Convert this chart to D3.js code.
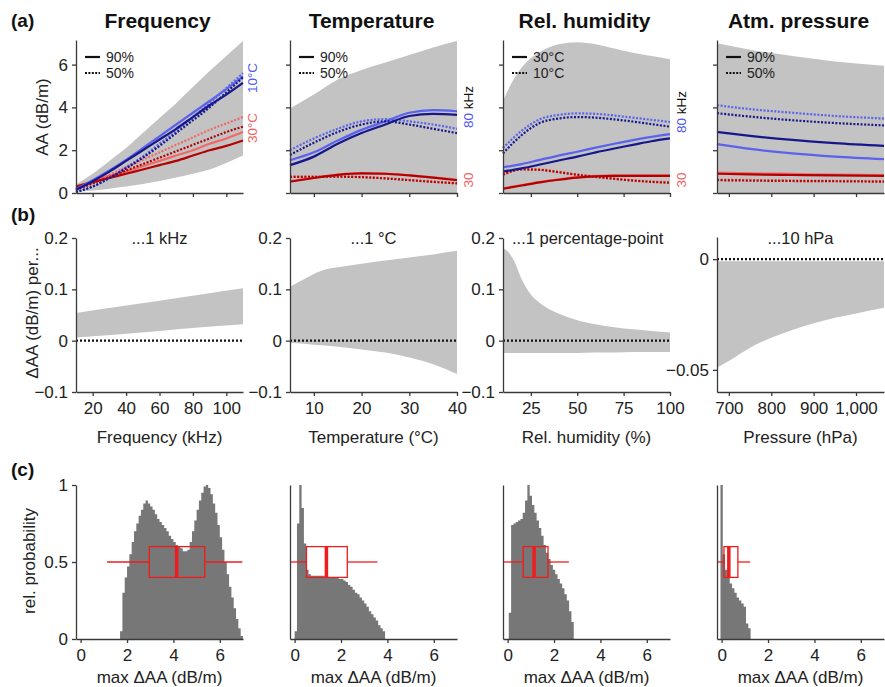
<!DOCTYPE html>
<html><head><meta charset="utf-8">
<script src="https://cdn.jsdelivr.net/npm/d3@7"></script>
<style>body{margin:0;background:#fff}</style>
</head><body>
<svg id="chart" width="885" height="687"></svg>
<script>
// ---------- DATA ----------
const titles = ["Frequency", "Temperature", "Rel. humidity", "Atm. pressure"];
const xTitlesB = ["Frequency (kHz)", "Temperature (°C)", "Rel. humidity (%)", "Pressure (hPa)"];
const subtitlesB = ["...1 kHz", "...1 °C", "...1 percentage-point", "...10 hPa"];
const xDomains = [[10, 110], [5, 40], [10, 100], [672, 1066]];
const xTicks = [[20, 40, 60, 80, 100], [10, 20, 30, 40], [25, 50, 75, 100], [700, 800, 900, 1000]];
const xTickLabels = [["20", "40", "60", "80", "100"], ["10", "20", "30", "40"], ["25", "50", "75", "100"], ["700", "800", "900", "1,000"]];
const legendLabelsA = [["90%", "50%"], ["90%", "50%"], ["30°C", "10°C"], ["90%", "50%"]];
const yTicksA = [0, 2, 4, 6];
const yTicksB = [-0.1, 0, 0.1, 0.2];
const yTickLabelsB = ["\u22120.1", "0", "0.1", "0.2"];
const yTicksB4 = [-0.05, 0];
const yTickLabelsB4 = ["\u22120.05", "0"];
const yTicksC = [0, 0.5, 1];
const yTickLabelsC = ["0", "0.5", "1"];
const xTicksC = [0, 2, 4, 6];

// Row (a), panel 1: frequency
const a1X = [10, 20, 30, 40, 50, 60, 70, 80, 90, 100, 110];
const a1Hi = [0.4, 0.9, 1.5, 2.1, 2.8, 3.5, 4.2, 4.95, 5.7, 6.4, 7.1];
const a1Lo = [0.05, 0.12, 0.2, 0.3, 0.42, 0.56, 0.72, 0.9, 1.1, 1.4, 1.75];
const a1_db90 = [0.15, 0.55, 1.0, 1.5, 2.0, 2.5, 3.0, 3.55, 4.1, 4.6, 5.15];
const a1_lb90 = [0.2, 0.6, 1.05, 1.55, 2.1, 2.65, 3.2, 3.75, 4.3, 4.85, 5.45];
const a1_db50 = [0.05, 0.3, 0.7, 1.15, 1.65, 2.2, 2.8, 3.4, 4.0, 4.7, 5.4];
const a1_lb50 = [0.05, 0.3, 0.7, 1.2, 1.7, 2.3, 2.9, 3.55, 4.2, 4.9, 5.6];
const a1_dr90 = [0.3, 0.5, 0.7, 0.9, 1.1, 1.3, 1.5, 1.75, 2.0, 2.2, 2.45];
const a1_lr90 = [0.3, 0.55, 0.8, 1.0, 1.25, 1.5, 1.75, 2.0, 2.3, 2.55, 2.85];
const a1_dr50 = [0.15, 0.45, 0.75, 1.05, 1.35, 1.65, 1.95, 2.25, 2.55, 2.85, 3.1];
const a1_lr50 = [0.15, 0.5, 0.85, 1.2, 1.55, 1.9, 2.25, 2.6, 2.95, 3.25, 3.55];

// Row (a), panel 2: temperature
const a2X = [5, 10, 15, 20, 25, 30, 35, 40];
const a2Hi = [3.95, 4.6, 5.3, 5.75, 6.1, 6.45, 6.8, 7.1];
const a2Lo = [0, 0, 0, 0, 0, 0, 0, 0];
const a2_db90 = [1.3, 1.7, 2.3, 2.8, 3.2, 3.6, 3.7, 3.65];
const a2_lb90 = [1.53, 1.9, 2.45, 2.95, 3.35, 3.75, 3.87, 3.82];
const a2_db50 = [1.78, 2.35, 2.85, 3.2, 3.35, 3.2, 3.0, 2.8];
const a2_lb50 = [2.0, 2.55, 3.0, 3.35, 3.45, 3.35, 3.2, 3.0];
const a2_dr90 = [0.53, 0.7, 0.85, 0.92, 0.9, 0.82, 0.72, 0.6];
const a2_lr90 = [0.55, 0.72, 0.86, 0.93, 0.91, 0.83, 0.73, 0.62];
const a2_dr50 = [0.75, 0.76, 0.76, 0.74, 0.68, 0.6, 0.52, 0.45];
const a2_lr50 = [0.76, 0.77, 0.77, 0.75, 0.69, 0.61, 0.53, 0.46];

// Row (a), panel 3: relative humidity
const a3X = [10, 20, 30, 40, 50, 60, 70, 80, 90, 100];
const a3BandX = [10, 15, 20, 25, 30, 40, 50, 60, 70, 80, 90, 100];
const a3Hi = [4.3, 5.2, 5.85, 6.3, 6.6, 6.95, 7.05, 6.95, 6.75, 6.55, 6.4, 6.25];
const a3Lo = [0, 0, 0, 0, 0, 0, 0, 0, 0, 0, 0, 0];
const a3_db90 = [1.0, 1.15, 1.33, 1.52, 1.7, 1.9, 2.08, 2.25, 2.42, 2.55];
const a3_lb90 = [1.2, 1.35, 1.55, 1.75, 1.93, 2.12, 2.3, 2.47, 2.62, 2.75];
const a3_db50 = [1.85, 2.7, 3.28, 3.48, 3.55, 3.52, 3.44, 3.34, 3.22, 3.1];
const a3_lb50 = [2.1, 2.9, 3.45, 3.65, 3.72, 3.7, 3.62, 3.52, 3.42, 3.32];
const a3_dr90 = [0.2, 0.35, 0.5, 0.62, 0.72, 0.78, 0.8, 0.8, 0.8, 0.8];
const a3_lr90 = [0.22, 0.37, 0.52, 0.64, 0.74, 0.8, 0.82, 0.82, 0.82, 0.82];
const a3_dr50 = [0.85, 1.1, 1.08, 0.97, 0.85, 0.75, 0.66, 0.58, 0.52, 0.48];
const a3_lr50 = [0.87, 1.12, 1.1, 0.99, 0.87, 0.77, 0.68, 0.6, 0.54, 0.5];

// Row (a), panel 4: pressure
const a4X = [672, 750, 850, 950, 1066];
const a4Hi = [7.0, 6.7, 6.4, 6.15, 5.95];
const a4Lo = [0, 0, 0, 0, 0];
const a4_db90 = [2.85, 2.67, 2.48, 2.33, 2.2];
const a4_lb90 = [2.28, 2.06, 1.85, 1.7, 1.58];
const a4_db50 = [3.73, 3.57, 3.4, 3.27, 3.16];
const a4_lb50 = [4.1, 3.92, 3.75, 3.6, 3.48];
const a4_dr90 = [0.9, 0.87, 0.84, 0.82, 0.8];
const a4_lr90 = [0.95, 0.92, 0.89, 0.86, 0.84];
const a4_dr50 = [0.6, 0.58, 0.56, 0.55, 0.53];
const a4_lr50 = [0.63, 0.61, 0.59, 0.57, 0.55];

// Row (b): derivative bands
const b1X = [10, 35, 60, 85, 110];
const b1Hi = [0.054, 0.066, 0.078, 0.09, 0.102];
const b1Lo = [0.006, 0.012, 0.019, 0.026, 0.032];
const b2X = [5, 8, 10, 13, 15, 20, 25, 30, 35, 40];
const b2Hi = [0.105, 0.12, 0.13, 0.14, 0.143, 0.15, 0.156, 0.162, 0.168, 0.175];
const b2Lo = [-0.004, -0.006, -0.008, -0.01, -0.012, -0.017, -0.023, -0.033, -0.046, -0.065];
const b3X = [10, 13, 16, 20, 25, 30, 40, 50, 60, 70, 80, 90, 100];
const b3Hi = [0.18, 0.172, 0.155, 0.12, 0.09, 0.073, 0.053, 0.04, 0.032, 0.026, 0.022, 0.019, 0.016];
const b3Lo = [-0.024, -0.024, -0.024, -0.024, -0.024, -0.024, -0.024, -0.024, -0.023, -0.023, -0.022, -0.022, -0.022];
const b4X = [672, 700, 750, 800, 850, 900, 950, 1000, 1066];
const b4Hi = [-0.001, -0.001, -0.001, -0.001, -0.001, -0.001, -0.001, -0.001, -0.001];
const b4Lo = [-0.049, -0.046, -0.040, -0.0355, -0.032, -0.029, -0.0265, -0.0245, -0.022];

// Row (c): histograms (bin width 0.1) and box-plot statistics
const binWidth = 0.1;
const c1Start = 1.7;
const c1Hist = [0.05,0.30,0.40,0.47,0.55,0.63,0.70,0.75,0.80,0.84,0.88,0.90,0.88,0.86,0.84,0.81,0.78,0.76,0.74,0.72,0.70,0.67,0.65,0.63,0.61,0.60,0.59,0.57,0.57,0.58,0.63,0.70,0.77,0.84,0.90,0.95,0.99,1.00,0.98,0.94,0.88,0.82,0.74,0.66,0.58,0.50,0.42,0.34,0.27,0.20,0.13,0.07,0.02];
const c2Start = 0.0;
const c2Hist = [0.05,0.75,1.0,0.85,0.62,0.45,0.42,0.41,0.41,0.41,0.41,0.41,0.41,0.40,0.40,0.40,0.40,0.40,0.40,0.39,0.39,0.38,0.37,0.35,0.34,0.32,0.30,0.29,0.27,0.25,0.23,0.21,0.18,0.16,0.14,0.12,0.09,0.07,0.05];
const c3Start = 0.05;
const c3Hist = [0.17,0.74,0.75,0.76,0.77,0.78,0.82,0.90,1.00,0.93,0.87,0.82,0.77,0.72,0.67,0.61,0.56,0.52,0.48,0.45,0.42,0.39,0.36,0.33,0.29,0.25,0.18,0.11];
const c4Start = -0.05;
const c4Hist = [1.0,0.55,0.45,0.40,0.36,0.33,0.30,0.27,0.25,0.23,0.21,0.10,0.07];
const whiskerLo = [1.14, -0.2, -0.2, -0.2];
const q1 = [2.96, 0.51, 0.67, 0.10];
const median = [4.14, 1.37, 1.14, 0.31];
const q3 = [5.35, 2.27, 1.74, 0.70];
const whiskerHi = [6.97, 3.57, 2.64, 1.23];

// ---------- DRAWING ----------
const FONT = "'Liberation Sans', Arial, Helvetica, sans-serif";
const colDB = "#17178c", colLB = "#5a62ee", colDR = "#b40000", colLR = "#f26868";
const colLBText = "#4f58f0", colRText = "#f06262";
const bandFill = "#c3c3c3", histFill = "#777777", boxRed = "#ee1c1c";
const svg = d3.select("#chart").attr("font-family", FONT);
const L = [76, 290, 503, 717], W = 167;
const yA = d3.scaleLinear([0, 7.15], [193, 40]);
const yB = d3.scaleLinear([-0.1, 0.2], [392, 238]);
const yB4 = d3.scaleLinear([-0.06, 0.01], [392, 237]);
const yC = d3.scaleLinear([0, 1], [639, 485]);

function styleAxis(g) {
  g.selectAll("path,line").attr("stroke", "#3a3a3a").attr("stroke-width", 1.3);
  g.selectAll("text").attr("font-size", 17).attr("fill", "#222").attr("font-family", FONT);
}

const panelsA = [
  {x: a1X, bx: a1X, hi: a1Hi, lo: a1Lo, s: [a1_db90, a1_lb90, a1_db50, a1_lb50, a1_dr90, a1_lr90, a1_dr50, a1_lr50]},
  {x: a2X, bx: a2X, hi: a2Hi, lo: a2Lo, s: [a2_db90, a2_lb90, a2_db50, a2_lb50, a2_dr90, a2_lr90, a2_dr50, a2_lr50]},
  {x: a3X, bx: a3BandX, hi: a3Hi, lo: a3Lo, s: [a3_db90, a3_lb90, a3_db50, a3_lb50, a3_dr90, a3_lr90, a3_dr50, a3_lr50]},
  {x: a4X, bx: a4X, hi: a4Hi, lo: a4Lo, s: [a4_db90, a4_lb90, a4_db50, a4_lb50, a4_dr90, a4_lr90, a4_dr50, a4_lr50]}
];
const seriesColors = [colDB, colLB, colDB, colLB, colDR, colLR, colDR, colLR];
const seriesDotted = [false, false, true, true, false, false, true, true];
const drawOrder = [7, 5, 6, 4, 3, 1, 2, 0];

const bandsB = [[b1X, b1Hi, b1Lo], [b2X, b2Hi, b2Lo], [b3X, b3Hi, b3Lo], [b4X, b4Hi, b4Lo]];
const hists = [[c1Start, c1Hist], [c2Start, c2Hist], [c3Start, c3Hist], [c4Start, c4Hist]];

for (let i = 0; i < 4; i++) {
  const x = d3.scaleLinear(xDomains[i], [L[i], L[i] + W]);
  const P = panelsA[i];

  // ---- Row (a)
  const band = P.bx.map((v, k) => ({x: v, hi: P.hi[k], lo: P.lo[k]}));
  svg.append("path").datum(band).attr("fill", bandFill)
    .attr("d", d3.area().x(d => x(d.x)).y0(d => yA(d.lo)).y1(d => yA(d.hi)).curve(d3.curveMonotoneX));
  const line = d3.line().x(d => x(d[0])).y(d => yA(d[1])).curve(d3.curveMonotoneX);
  drawOrder.forEach(k => {
    svg.append("path").datum(P.x.map((v, j) => [v, P.s[k][j]]))
      .attr("fill", "none").attr("stroke", seriesColors[k]).attr("stroke-width", 2.2)
      .attr("stroke-dasharray", seriesDotted[k] ? "2,1.6" : null)
      .attr("d", line);
  });
  svg.append("g").attr("transform", "translate(0,193)")
    .call(d3.axisBottom(x).tickValues(xTicks[i]).tickFormat("").tickSize(4).tickSizeOuter(0)).call(styleAxis);
  svg.append("g").attr("transform", `translate(${L[i]},0)`)
    .call(d3.axisLeft(yA).tickValues(yTicksA).tickFormat(i === 0 ? d3.format("d") : "").tickSize(4).tickPadding(4).tickSizeOuter(0)).call(styleAxis);
  // legend
  legendLabelsA[i].forEach((lab, k) => {
    const yy = 57 + k * 16;
    svg.append("line").attr("x1", L[i] + 9).attr("x2", L[i] + 24).attr("y1", yy).attr("y2", yy)
      .attr("stroke", "#111").attr("stroke-width", 2.2).attr("stroke-dasharray", k === 1 ? "2,1.4" : null);
    svg.append("text").attr("x", L[i] + 30).attr("y", yy + 5).attr("font-size", 14).attr("fill", "#222").text(lab);
  });
  // title
  svg.append("text").attr("x", L[i] + W / 2 - 2).attr("y", 28).attr("text-anchor", "middle")
    .attr("font-size", 21).attr("font-weight", "bold").attr("fill", "#111").text(titles[i]);

  // ---- Row (b)
  const yb = i === 3 ? yB4 : yB;
  const [bx, bh, bl] = bandsB[i];
  svg.append("path").datum(bx.map((v, k) => ({x: v, hi: bh[k], lo: bl[k]}))).attr("fill", bandFill)
    .attr("d", d3.area().x(d => x(d.x)).y0(d => yb(d.lo)).y1(d => yb(d.hi)).curve(d3.curveMonotoneX));
  svg.append("path").datum(xDomains[i]).attr("fill", "none").attr("stroke", "#111")
    .attr("stroke-width", 2.2).attr("stroke-dasharray", "2,2")
    .attr("d", d3.line().x(d => x(d)).y(() => yb(0)));
  svg.append("g").attr("transform", "translate(0,392)")
    .call(d3.axisBottom(x).tickValues(xTicks[i]).tickFormat((d, k) => xTickLabels[i][k]).tickSize(4).tickPadding(6).tickSizeOuter(0)).call(styleAxis);
  const ybt = i === 3 ? yTicksB4 : yTicksB, ybl = i === 3 ? yTickLabelsB4 : yTickLabelsB;
  svg.append("g").attr("transform", `translate(${L[i]},0)`)
    .call(d3.axisLeft(yb).tickValues(ybt).tickFormat((d, k) => ybl[k]).tickSize(4).tickPadding(4).tickSizeOuter(0)).call(styleAxis);
  svg.append("text").attr("x", L[i] + W / 2).attr("y", 443).attr("text-anchor", "middle")
    .attr("font-size", 17).attr("fill", "#222").text(xTitlesB[i]);
  const st = svg.append("text").attr("x", L[i] + W / 2).attr("y", 244).attr("text-anchor", "middle")
    .attr("font-size", 16.5).attr("fill", "#222").text(subtitlesB[i]);
  if (st.node().getComputedTextLength() > W - 20) st.attr("text-anchor", "start").attr("x", L[i] + 9);

  // ---- Row (c)
  const xc = d3.scaleLinear([-0.2, 7], [L[i], L[i] + W]);
  const [hs, hv] = hists[i];
  const pts = hv.map((h, k) => ({x: hs + k * binWidth, h}));
  pts.push({x: hs + hv.length * binWidth, h: hv[hv.length - 1]});
  svg.append("path").datum(pts).attr("fill", histFill)
    .attr("d", d3.area().x(d => xc(d.x)).y0(yC(0)).y1(d => yC(d.h)).curve(d3.curveStepAfter));
  // box plot
  const gy = yC(0.5);
  svg.append("line").attr("x1", xc(whiskerLo[i])).attr("x2", xc(q1[i])).attr("y1", gy).attr("y2", gy)
    .attr("stroke", boxRed).attr("stroke-width", 1.3);
  svg.append("line").attr("x1", xc(q3[i])).attr("x2", xc(whiskerHi[i])).attr("y1", gy).attr("y2", gy)
    .attr("stroke", boxRed).attr("stroke-width", 1.3);
  svg.append("rect").attr("x", xc(q1[i])).attr("width", xc(q3[i]) - xc(q1[i]))
    .attr("y", yC(0.6)).attr("height", yC(0.4) - yC(0.6))
    .attr("fill", "none").attr("stroke", boxRed).attr("stroke-width", 1.3);
  svg.append("line").attr("x1", xc(median[i])).attr("x2", xc(median[i])).attr("y1", yC(0.6)).attr("y2", yC(0.4))
    .attr("stroke", boxRed).attr("stroke-width", 3.5);
  svg.append("g").attr("transform", "translate(0,639)")
    .call(d3.axisBottom(xc).tickValues(xTicksC).tickFormat(d3.format("d")).tickSize(4).tickPadding(6).tickSizeOuter(0)).call(styleAxis);
  svg.append("g").attr("transform", `translate(${L[i]},0)`)
    .call(d3.axisLeft(yC).tickValues(i === 0 ? yTicksC : []).tickFormat((d, k) => yTickLabelsC[k]).tickSize(4).tickPadding(4).tickSizeOuter(0)).call(styleAxis);
  svg.append("text").attr("x", L[i] + W / 2).attr("y", 683).attr("text-anchor", "middle")
    .attr("font-size", 17).attr("fill", "#222").text("max \u0394AA (dB/m)");
}

// side labels in row (a)
function vlabel(x, y, parts) {
  const t = svg.append("text").attr("transform", `translate(${x},${y}) rotate(-90)`)
    .attr("text-anchor", "middle").attr("font-size", 13.5);
  parts.forEach(([s, c]) => t.append("tspan").attr("fill", c).text(s));
}
vlabel(257, 78, [["10°C", colLBText]]);
vlabel(257, 128, [["30°C", colRText]]);
vlabel(473, 107, [["80", colLBText], [" kHz", "#111"]]);
vlabel(473, 180, [["30", colRText]]);
vlabel(686, 112, [["80", colLBText], [" kHz", "#111"]]);
vlabel(686, 180, [["30", colRText]]);

// y titles and panel letters
function ytitle(x, y, s) {
  svg.append("text").attr("transform", `translate(${x},${y}) rotate(-90)`).attr("text-anchor", "middle")
    .attr("font-size", 17).attr("fill", "#222").text(s);
}
ytitle(48, 117, "AA (dB/m)");
ytitle(38, 313, "\u0394AA (dB/m) per...");
ytitle(35, 561, "rel. probability");
[["(a)", 27], ["(b)", 221], ["(c)", 476]].forEach(([s, y]) => {
  svg.append("text").attr("x", 11).attr("y", y).attr("font-size", 19).attr("font-weight", "bold").attr("fill", "#111").text(s);
});
</script>
</body></html>
